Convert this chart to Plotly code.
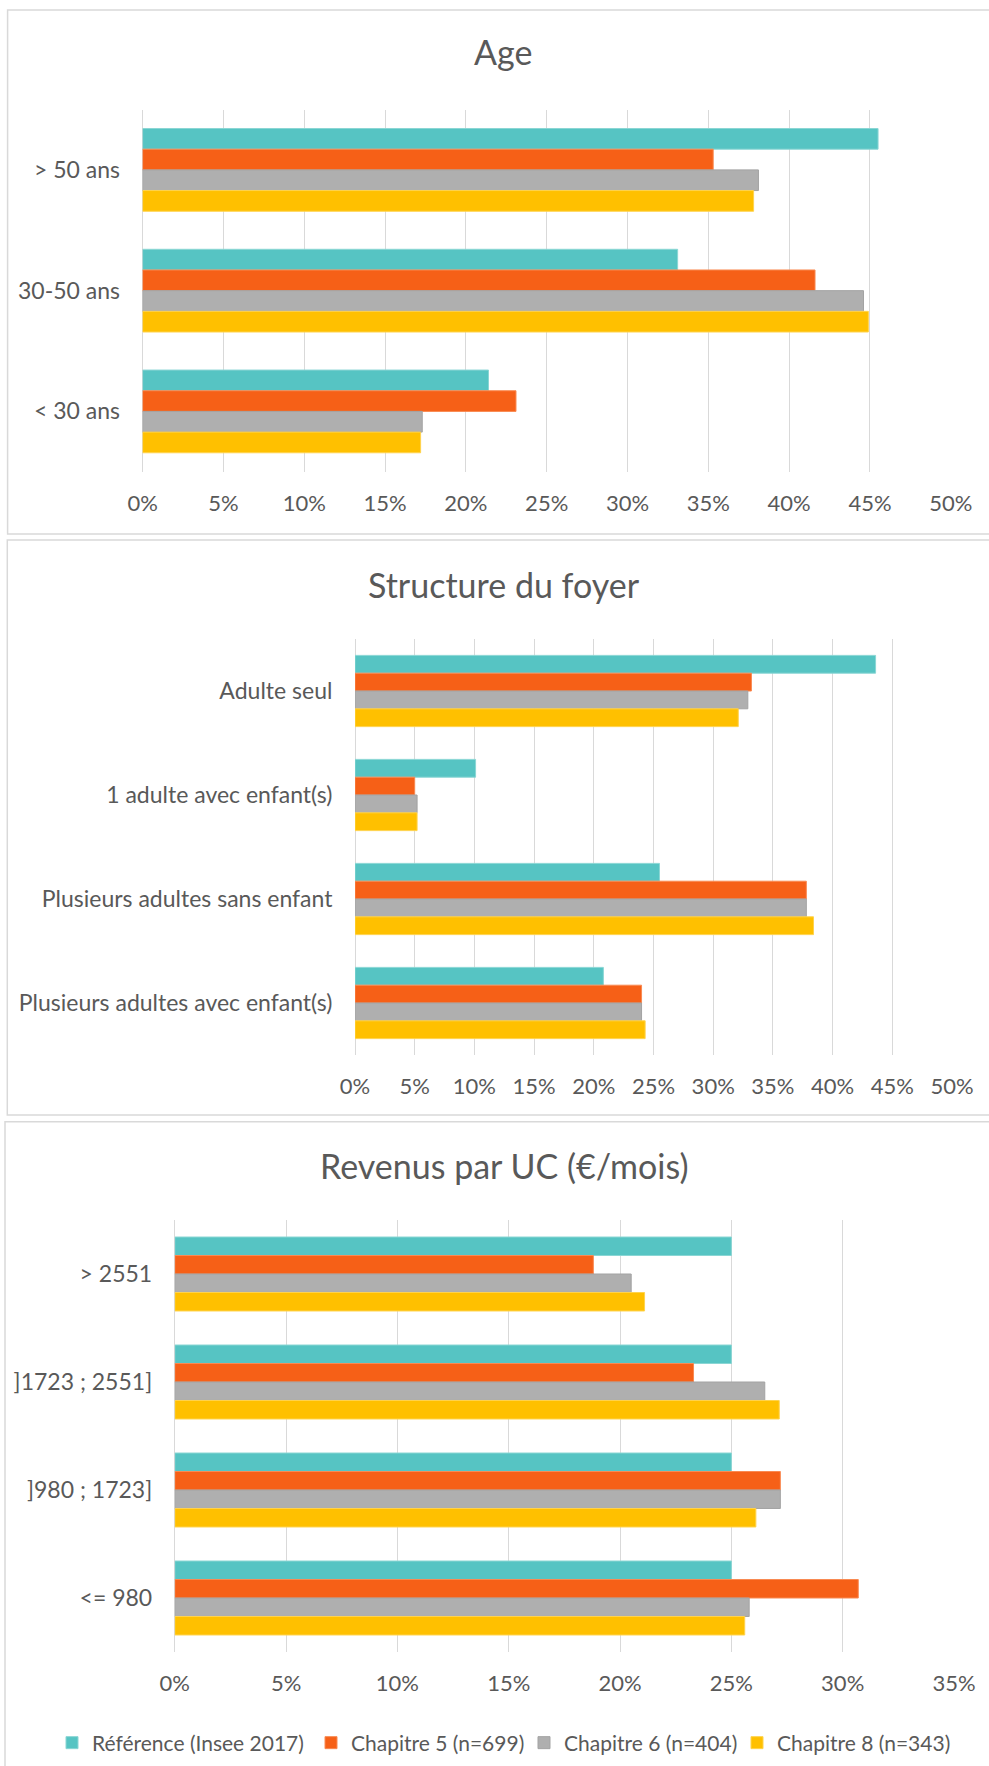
import plotly.graph_objects as go

W, H = 989, 1766

series_names = ["Référence (Insee 2017)", "Chapitre 5 (n=699)", "Chapitre 6 (n=404)", "Chapitre 8 (n=343)"]
colors = ["#56C4C3", "#F66017", "#AFAFAF", "#FFC000"]
edge_colors = ["#8AD6D4", "#F98A52", "#A3A3A3", "#FFD34D"]

# Panel 1: Age (top-to-bottom order)
age_cats = ["> 50 ans", "30-50 ans", "< 30 ans"]
age_ref = [45.5, 33.1, 21.4]
age_ch5 = [35.3, 41.6, 23.1]
age_ch6 = [38.1, 44.6, 17.3]
age_ch8 = [37.8, 44.9, 17.2]

# Panel 2: Structure du foyer
foyer_cats = ["Adulte seul", "1 adulte avec enfant(s)", "Plusieurs adultes sans enfant", "Plusieurs adultes avec enfant(s)"]
foyer_ref = [43.6, 10.1, 25.5, 20.8]
foyer_ch5 = [33.2, 5.0, 37.8, 24.0]
foyer_ch6 = [32.9, 5.2, 37.8, 24.0]
foyer_ch8 = [32.1, 5.2, 38.4, 24.3]

# Panel 3: Revenus par UC
rev_cats = ["> 2551", "]1723 ; 2551]", "]980 ; 1723]", "<= 980"]
rev_ref = [25.0, 25.0, 25.0, 25.0]
rev_ch5 = [18.8, 23.3, 27.2, 30.7]
rev_ch6 = [20.5, 26.5, 27.2, 25.8]
rev_ch8 = [21.1, 27.15, 26.1, 25.6]

titles = ["Age", "Structure du foyer", "Revenus par UC (€/mois)"]
x_max = [50, 50, 35]

FONT = "Lato, 'Open Sans', sans-serif"
TXT = "#595959"
GRID = "#D9D9D9"

panels = [
    (age_cats, [age_ref, age_ch5, age_ch6, age_ch8]),
    (foyer_cats, [foyer_ref, foyer_ch5, foyer_ch6, foyer_ch8]),
    (rev_cats, [rev_ref, rev_ch5, rev_ch6, rev_ch8]),
]

# layout geometry in pixels
plot_px = [
    (142.6, 950.8, 109.5, 471.8),
    (355.0, 952.0, 639.0, 1055.0),
    (174.8, 954.0, 1220.0, 1652.0),
]
title_px = [(503, 52), (504, 584), (505, 1165)]
frame_px = [(7.6, 10.0, 534.0), (7.3, 540.0, 1115.0), (5.0, 1121.7, 1790.0)]
legend_x_px = [52, 311, 524, 737]
legend_y_px = 1743

def px_x(x):
    return x / W

def px_y(y):
    return 1 - y / H

fig = go.Figure()
legend_ids = ["legend", "legend2", "legend3", "legend4"]

for p, (cats, vals) in enumerate(panels):
    ax = "" if p == 0 else str(p + 1)
    for s in range(4):
        fig.add_trace(go.Bar(
            y=cats, x=vals[s], orientation="h",
            name=series_names[s],
            marker=dict(color=colors[s], line=dict(width=1, color=edge_colors[s])),
            showlegend=(p == 0),
            legend=legend_ids[s],
            legendgroup=series_names[s],
            xaxis="x" + ax, yaxis="y" + ax,
        ))

layout = dict(
    width=W, height=H, autosize=False,
    margin=dict(l=0, r=0, t=0, b=0, pad=0, autoexpand=False),
    paper_bgcolor="white", plot_bgcolor="white",
    barmode="group", bargap=0.315, bargroupgap=0,
    font=dict(family=FONT, color=TXT, size=22),
    shapes=[], annotations=[],
)

for s in range(4):
    layout[legend_ids[s]] = dict(
        orientation="h", x=px_x(legend_x_px[s]), xanchor="left",
        y=px_y(legend_y_px), yanchor="middle",
        font=dict(size=21, color=TXT, family=FONT),
        itemwidth=30, bgcolor="rgba(0,0,0,0)", borderwidth=0,
    )

for p in range(3):
    ax = "" if p == 0 else str(p + 1)
    x0, x1, y0, y1 = plot_px[p]
    layout["xaxis" + ax] = dict(
        domain=[px_x(x0), px_x(x1)], range=[0, x_max[p]], dtick=5, ticksuffix="%",
        anchor="y" + ax, showgrid=True, gridcolor=GRID, gridwidth=1,
        zeroline=True, zerolinecolor=GRID, zerolinewidth=1, showline=False,
        ticks="outside", ticklen=12, tickcolor="rgba(0,0,0,0)",
        tickfont=dict(size=22, color=TXT, family=FONT), automargin=False, fixedrange=True,
    )
    layout["yaxis" + ax] = dict(
        domain=[px_y(y1), px_y(y0)], type="category", autorange="reversed",
        anchor="x" + ax, showgrid=False, zeroline=False, showline=False,
        ticks="outside", ticklen=17, tickcolor="rgba(0,0,0,0)",
        tickfont=dict(size=23, color=TXT, family=FONT), automargin=False, fixedrange=True,
    )
    tx, ty = title_px[p]
    layout["annotations"].append(dict(
        text=titles[p], x=px_x(tx), y=px_y(ty), xref="paper", yref="paper",
        xanchor="center", yanchor="middle", showarrow=False,
        font=dict(size=34, color=TXT, family=FONT),
    ))
    fx, fy0, fy1 = frame_px[p]
    layout["shapes"].append(dict(
        type="rect", xref="paper", yref="paper",
        x0=px_x(fx), x1=1.05, y0=px_y(fy1), y1=px_y(fy0),
        line=dict(color=GRID, width=1.5), fillcolor="rgba(0,0,0,0)", layer="below",
    ))

fig.update_layout(**layout)
fig.write_html(
    "out.html",
    config={"displayModeBar": False},
    post_script="document.body.style.margin='0';document.body.style.padding='0';",
)
